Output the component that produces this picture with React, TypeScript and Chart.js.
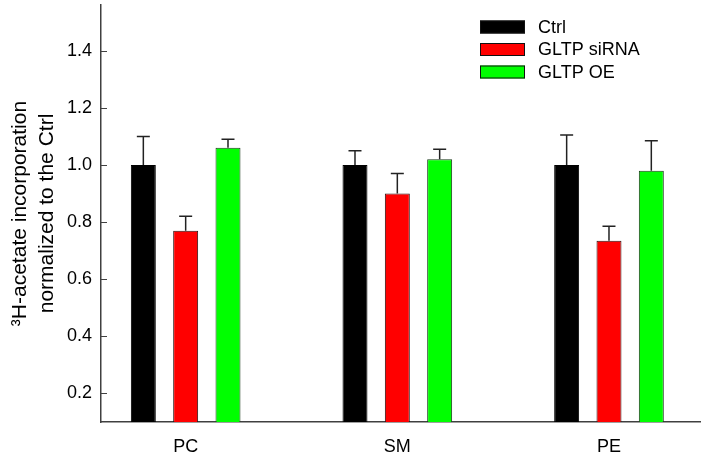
import React, { useEffect, useRef } from "react";
import { Chart, registerables } from "chart.js";

Chart.register(...registerables);

const categories = ["PC", "SM", "PE"];
const seriesNames = ["Ctrl", "GLTP siRNA", "GLTP OE"];
const ctrlValues = [1.0, 1.0, 1.0];
const ctrlErrors = [0.1, 0.05, 0.105];
const sirnaValues = [0.77, 0.9, 0.735];
const sirnaErrors = [0.05, 0.07, 0.05];
const oeValues = [1.06, 1.02, 0.98];
const oeErrors = [0.03, 0.035, 0.105];
const yTickValues = [0.2, 0.4, 0.6, 0.8, 1.0, 1.2, 1.4];
const yTitle = ["\u00B3H-acetate incorporation", "normalized to the Ctrl"];

const FONT = "'Liberation Sans', Arial, sans-serif";
const colors = ["#000000", "#ff0000", "#00ff00"];
const errorsBySeries = [ctrlErrors, sirnaErrors, oeErrors];

const errorBarPlugin = {
  id: "errorBars",
  afterDatasetsDraw(chart: any) {
    const ctx = chart.ctx;
    const yScale = chart.scales.y;
    ctx.save();
    ctx.strokeStyle = "#222";
    ctx.lineWidth = 1.5;
    chart.data.datasets.forEach((ds: any, di: number) => {
      const meta = chart.getDatasetMeta(di);
      meta.data.forEach((bar: any, i: number) => {
        const v = ds.data[i].y;
        const e = errorsBySeries[di][i];
        const yTop = yScale.getPixelForValue(v + e);
        const x = bar.x;
        ctx.beginPath();
        ctx.moveTo(x, bar.y);
        ctx.lineTo(x, yTop);
        ctx.moveTo(x - 6.5, yTop);
        ctx.lineTo(x + 6.5, yTop);
        ctx.stroke();
      });
    });
    ctx.restore();
  },
};

const yTicksPlugin = {
  id: "inwardTicks",
  afterDraw(chart: any) {
    const ctx = chart.ctx;
    const yScale = chart.scales.y;
    const left = chart.chartArea.left;
    ctx.save();
    ctx.strokeStyle = "#404040";
    ctx.lineWidth = 1;
    yTickValues.forEach((v) => {
      const y = Math.round(yScale.getPixelForValue(v)) + 0.5;
      ctx.beginPath();
      ctx.moveTo(left, y);
      ctx.lineTo(left + 6, y);
      ctx.stroke();
    });
    ctx.restore();
  },
};

const legendPlugin = {
  id: "customLegend",
  afterDraw(chart: any) {
    const ctx = chart.ctx;
    ctx.save();
    ctx.font = `18px ${FONT}`;
    ctx.textBaseline = "middle";
    ctx.textAlign = "left";
    const rows = [27, 49.5, 72];
    seriesNames.forEach((name, i) => {
      const y = rows[i];
      ctx.fillStyle = colors[i];
      ctx.fillRect(480, y - 6.5, 45, 13);
      ctx.strokeStyle = "#111";
      ctx.lineWidth = 1;
      ctx.strokeRect(480.5, y - 6, 44, 12);
      ctx.fillStyle = "#000";
      ctx.fillText(name, 538, y + 1);
    });
    ctx.restore();
  },
};

export default function App() {
  const canvasRef = useRef<HTMLCanvasElement | null>(null);

  useEffect(() => {
    document.body.style.margin = "0";
    const canvas = canvasRef.current;
    if (!canvas) return;
    const mk = (vals: number[]) => vals.map((y, i) => ({ x: i, y }));
    const chart = new Chart(canvas, {
      type: "bar",
      data: {
        datasets: [
          { label: seriesNames[0], data: mk(ctrlValues), backgroundColor: colors[0], borderColor: "#000", borderWidth: 1 },
          { label: seriesNames[1], data: mk(sirnaValues), backgroundColor: colors[1], borderColor: "#2a1010", borderWidth: 1 },
          { label: seriesNames[2], data: mk(oeValues), backgroundColor: colors[2], borderColor: "#1a3a1a", borderWidth: 1 },
        ],
      },
      options: {
        animation: false,
        responsive: true,
        maintainAspectRatio: false,
        categoryPercentage: 0.6,
        barPercentage: 0.59,
        layout: { padding: { left: 0, top: 5, right: 1, bottom: 0 } },
        plugins: {
          legend: { display: false },
          tooltip: { enabled: false },
        },
        scales: {
          x: {
            type: "linear",
            min: -0.4,
            max: 2.43,
            offset: false,
            grid: { display: false, drawTicks: false },
            border: { display: true, color: "#404040", width: 1.5 },
            afterBuildTicks: (scale: any) => {
              scale.ticks = categories.map((_, i) => ({ value: i }));
            },
            afterFit: (scale: any) => {
              scale.height = 37;
              scale.paddingLeft = 0;
              scale.paddingRight = 0;
            },
            ticks: {
              padding: 14,
              color: "#000",
              font: { family: FONT, size: 18 },
              callback: (v: any) => categories[Math.round(Number(v))] ?? "",
            },
          },
          y: {
            type: "linear",
            min: 0.1,
            max: 1.56,
            grid: { display: false, drawTicks: false },
            border: { display: true, color: "#404040", width: 1.5 },
            afterBuildTicks: (scale: any) => {
              scale.ticks = yTickValues.map((v) => ({ value: v }));
            },
            afterFit: (scale: any) => {
              scale.width = 101;
              scale.paddingTop = 0;
              scale.paddingBottom = 0;
            },
            ticks: {
              padding: 9,
              color: "#000",
              font: { family: FONT, size: 18 },
              callback: (v: any) => Number(v).toFixed(1),
            },
            title: {
              display: true,
              text: yTitle,
              color: "#000",
              font: { family: FONT, size: 21, lineHeight: 1.28 },
              padding: { top: 7, bottom: 0 },
            },
          },
        },
      },
      plugins: [errorBarPlugin, yTicksPlugin, legendPlugin],
    });
    return () => chart.destroy();
  }, []);

  return (
    <div style={{ position: "fixed", left: 0, top: 0, width: 701, height: 459, background: "#fff" }}>
      <canvas ref={canvasRef} />
    </div>
  );
}
